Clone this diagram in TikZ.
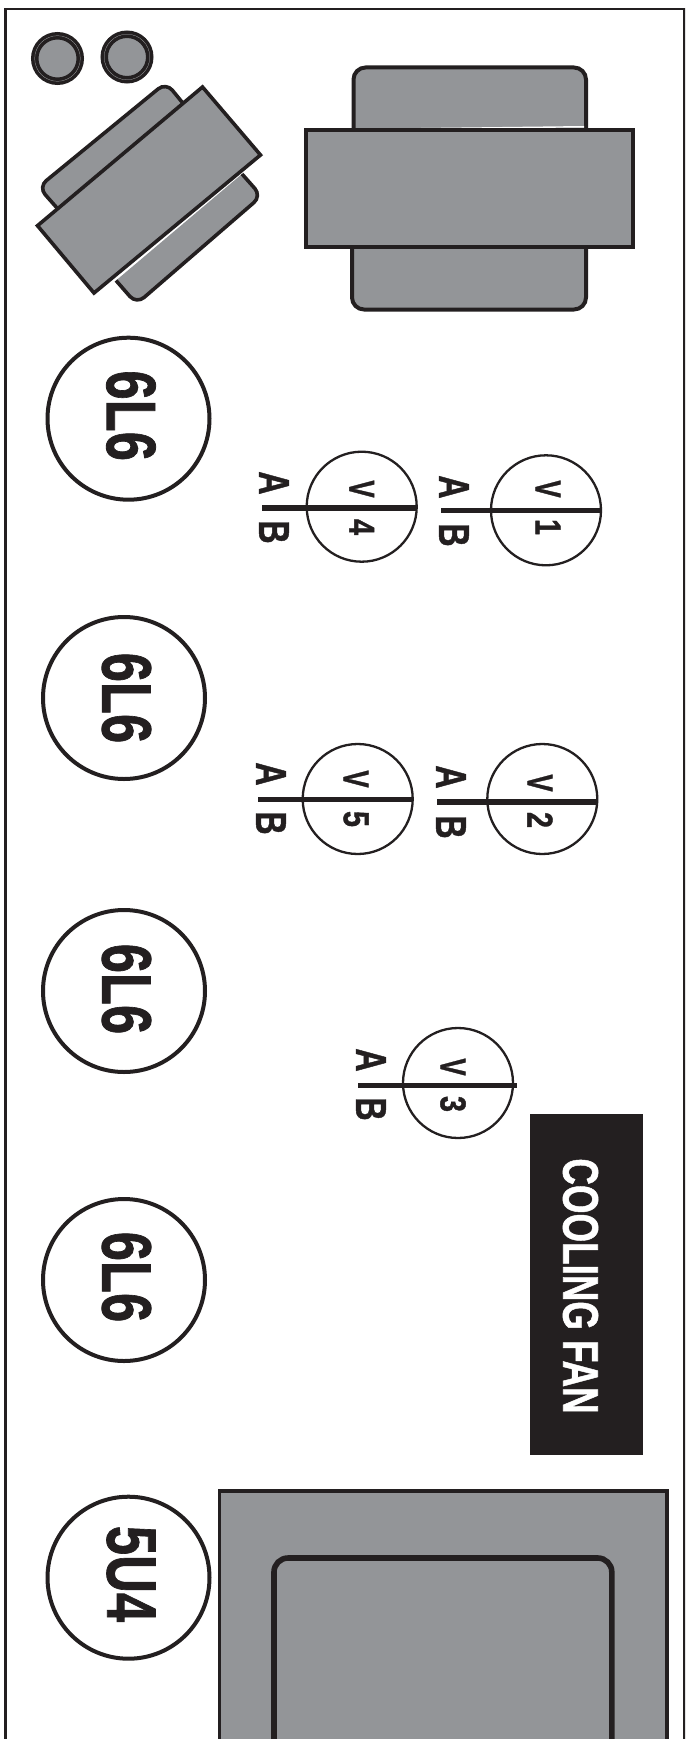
\documentclass[tikz,border=0pt]{standalone}
\usepackage{fontspec}
\setmainfont{Liberation Sans}[BoldFeatures={FakeBold=1.2}]
\definecolor{ink}{HTML}{231F20}
\definecolor{metal}{HTML}{939598}
\newcommand{\cond}[2][.75]{\scalebox{#1}[1]{#2}}
\tikzset{
  body/.style={draw=ink,fill=metal,line width=1.8pt},
  thickbody/.style={draw=ink,fill=metal,line width=2pt},
  tube/.style={circle,draw=ink,fill=white,line width=2pt,minimum size=81pt,inner sep=0pt},
  tubetext/.style={font=\bfseries\fontsize{35}{35}\selectfont,text=ink,rotate=-90,inner sep=0pt},
  vcirc/.style={circle,draw=ink,fill=white,line width=1.15pt,minimum size=55pt,inner sep=0pt},
  vbar/.style={draw=ink,line width=2.8pt},
  vtext/.style={font=\bfseries\fontsize{18}{18}\selectfont,text=ink,rotate=-90,inner sep=0pt},
  abtext/.style={font=\bfseries\fontsize{21.5}{21.5}\selectfont,text=ink,rotate=-90,inner sep=0pt},
  knob/.style={circle,draw=ink,fill=metal,line width=3.75pt,minimum size=22.75pt,inner sep=0pt},
  knobline/.style={circle,draw=metal!70,line width=.12pt,minimum size=22.8pt,inner sep=0pt},
}
\begin{document}
\begin{tikzpicture}[x=.5pt,y=-.5pt]
\clip (0,0) rectangle (685,1739);
\useasboundingbox (0,0) rectangle (685,1739);
\fill[white] (0,0) rectangle (685,1739);
\begin{scope}[xshift=.5pt]
% frame
\coordinate (fa) at (4.5,1745);
\coordinate (fb) at (4.5,9);
\coordinate (fc) at (683.5,9);
\coordinate (fd) at (683.5,1745);
\draw[ink,line width=1.3pt] (fa) -- (fb) -- (fc) -- (fd);
% knobs
\node[knob] (k1) at (56.5,58.5) {};
\node[knobline] (k1l) at (56.5,58.5) {};
\node[knob] (k2) at (126,57) {};
\node[knobline] (k2l) at (126,57) {};
% tilted transformer
\filldraw[body,rounded corners=5pt] (182.6,104) -- (165,82.5) -- (37.5,187) -- (56,208);
\filldraw[body,rounded corners=5pt] (241,174) -- (260.5,196) -- (135.5,304) -- (115,280.5);
\filldraw[body,line join=miter] (201.5,87) -- (259.5,155) -- (93,293) -- (36.5,225.7) -- cycle;
% upright transformer
\filldraw[thickbody,rounded corners=6pt] (352.5,130) -- (352.5,67.5) -- (585,67.5) -- (585,130);
\filldraw[thickbody,rounded corners=6pt] (351,247.5) -- (351,309.5) -- (585,309.5) -- (585,247.5);
\filldraw[thickbody] (304.5,130) rectangle (631.5,247.5);
\fill[white] (420,128) -- (583,126) -- (583,127.7) -- cycle;
% tubes
\node[tube] (t1) at (127.5,418.7) {};
\node[tubetext] (t1t) at (130,415.7) {\cond{6L6}};
\node[tube] (t2) at (123,698) {};
\node[tubetext] (t2t) at (125.5,698) {\cond{6L6}};
\node[tube] (t3) at (123,991) {};
\node[tubetext] (t3t) at (125.5,989) {\cond{6L6}};
\node[tube] (t4) at (123,1280) {};
\node[tubetext] (t4t) at (125.5,1277) {\cond{6L6}};
\node[tube] (t5) at (127.5,1577.7) {};
\node[tubetext] (t5t) at (130,1574) {\cond{5U4}};
% V circles
\node[vcirc] (v1) at (545,510.3) {};
\coordinate (v1a) at (440,510.3); \coordinate (v1b) at (600,510.3);
\draw[vbar] (v1a) -- (v1b);
\node[vtext] (v1v) at (547,489) {\cond[.72]{V}};
\node[vtext] (v1n) at (547,527) {\cond[.8]{1}};
\node[abtext] (v1A) at (453,487) {\cond{A}};
\node[abtext] (v1B) at (453,535) {\cond{B}};
\node[vcirc] (v4) at (360.7,506.7) {};
\coordinate (v4a) at (261,507.7); \coordinate (v4b) at (415,507.7);
\draw[vbar] (v4a) -- (v4b);
\node[vtext] (v4v) at (360.7,489) {\cond[.72]{V}};
\node[vtext] (v4n) at (360.7,527) {\cond[.8]{4}};
\node[abtext] (v4A) at (273,483) {\cond{A}};
\node[abtext] (v4B) at (273,532) {\cond{B}};
\node[vcirc] (v2) at (541.3,799) {};
\coordinate (v2a) at (436,801.7); \coordinate (v2b) at (596,801.7);
\draw[vbar] (v2a) -- (v2b);
\node[vtext] (v2v) at (539,783) {\cond[.72]{V}};
\node[vtext] (v2n) at (539,820) {\cond[.8]{2}};
\node[abtext] (v2A) at (450,777) {\cond{A}};
\node[abtext] (v2B) at (450,827) {\cond{B}};
\node[vcirc] (v5) at (356.7,799) {};
\coordinate (v5a) at (257,799.3); \coordinate (v5b) at (411,799.3);
\draw[vbar] (v5a) -- (v5b);
\node[vtext] (v5v) at (355,779) {\cond[.72]{V}};
\node[vtext] (v5n) at (355,819) {\cond[.8]{5}};
\node[abtext] (v5A) at (270,774) {\cond{A}};
\node[abtext] (v5B) at (270,823) {\cond{B}};
\node[vcirc] (v3) at (457,1083) {};
\coordinate (v3a) at (357,1085.3); \coordinate (v3b) at (516,1085.3);
\draw[vbar] (v3a) -- (v3b);
\node[vtext] (v3v) at (452,1067) {\cond[.72]{V}};
\node[vtext] (v3n) at (452,1104) {\cond[.8]{3}};
\node[abtext] (v3A) at (370,1060) {\cond{A}};
\node[abtext] (v3B) at (370,1109) {\cond{B}};
% fan
\node[fill=ink,minimum width=56.4pt,minimum height=170.5pt,inner sep=0pt] (fan) at (585.3,1284.5) {};
\node[rotate=-90,inner sep=0pt,text=white,font=\bfseries\fontsize{25}{25}\selectfont] (fant) at (579.5,1286) {\cond[.735]{COOLING FAN}};
% power transformer
\coordinate (pa) at (218.4,1745); \coordinate (pb) at (218.4,1491);
\coordinate (pc) at (666,1491); \coordinate (pd) at (666,1745);
\filldraw[draw=ink,fill=metal,line width=1.8pt] (pa) -- (pb) -- (pc) -- (pd);
\coordinate (qa) at (273,1745); \coordinate (qb) at (273,1558);
\coordinate (qc) at (610.8,1558); \coordinate (qd) at (610.8,1745);
\draw[ink,line width=2.8pt,rounded corners=7pt] (qa) -- (qb) -- (qc) -- (qd);
\end{scope}
\end{tikzpicture}
\end{document}
